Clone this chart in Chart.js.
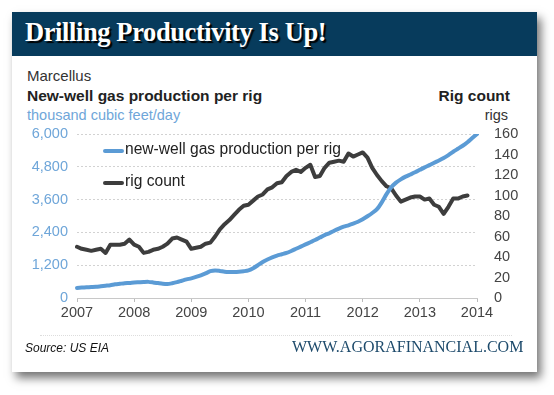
<!DOCTYPE html>
<html>
<head>
<meta charset="utf-8">
<script src="https://cdn.jsdelivr.net/npm/chart.js@4.4.1/dist/chart.umd.min.js"></script>
<style>
  html, body { margin:0; padding:0; background:#fff; }
  body { width:554px; height:395px; position:relative; overflow:hidden; font-family:"Liberation Sans", Arial, sans-serif; }
  .abs { position:absolute; white-space:nowrap; }
  #card { left:12px; top:12px; width:525px; height:360px; background:#fff; box-shadow:4px 6px 9px rgba(0,0,0,0.55); }
  #titlebar { left:12px; top:12px; width:525px; height:44px; background:#073b5c; }
  #title { left:25px; top:17px; font-family:"Liberation Serif", "Times New Roman", serif; font-weight:bold; font-size:26.5px; letter-spacing:-0.4px; color:#fff; text-shadow:2px 2px 1px #000; }
  canvas { position:absolute; left:0; top:0; }
</style>
</head>
<body>
<div id="card" class="abs"></div>
<div id="titlebar" class="abs"></div>
<div id="title" class="abs">Drilling Productivity Is Up!</div>
<div class="abs" style="left:27px;top:67px;font-size:15px;color:#333;">Marcellus</div>
<div class="abs" style="left:27px;top:87px;font-size:15.5px;font-weight:bold;color:#222;">New-well gas production per rig</div>
<div class="abs" style="left:27px;top:107px;font-size:14.5px;color:#6fa6d9;">thousand cubic feet/day</div>
<div class="abs" style="right:44px;top:87px;font-size:15.5px;font-weight:bold;color:#222;">Rig count</div>
<div class="abs" style="right:46px;top:107px;font-size:14.5px;color:#333;">rigs</div>
<canvas id="c" width="554" height="395"></canvas>
<div class="abs" style="left:103px;top:149px;width:21px;height:4px;border-radius:2px;background:#5b9bd5;"></div>
<div class="abs" style="left:125px;top:140px;font-size:15.6px;color:#222;">new-well gas production per rig</div>
<div class="abs" style="left:103px;top:181px;width:21px;height:4px;border-radius:2px;background:#3d3d3d;"></div>
<div class="abs" style="left:125px;top:172px;font-size:15.6px;color:#222;">rig count</div>
<div class="abs" style="left:40px;top:335px;width:472px;height:0;border-top:1px dotted #ddd;"></div>
<div class="abs" style="left:25px;top:341px;font-family:'Liberation Sans Narrow','Liberation Sans',Arial,sans-serif;font-style:italic;font-size:12px;color:#111;">Source: US EIA</div>
<div class="abs" style="left:292px;top:338px;font-family:'Liberation Serif','Times New Roman',serif;font-size:16px;color:#1d4a6b;">WWW.AGORAFINANCIAL.COM</div>
<script>
// ---- data ----
const years = [2007, 2008, 2009, 2010, 2011, 2012, 2013, 2014];
const months = ['01','02','03','04','05','06','07','08','09','10','11','12'];
const gasProduction = [
  370,380,390,400,410,430,450,470,500,520,540,550,
  565,575,585,590,570,545,520,510,540,580,630,680,
  720,770,830,900,980,1010,990,960,950,950,960,980,
  1010,1090,1200,1320,1410,1490,1550,1600,1650,1720,1800,1880,
  1960,2040,2120,2210,2300,2370,2460,2540,2610,2660,2720,2790,
  2880,2990,3110,3250,3500,3800,4050,4220,4340,4440,4520,4600,
  4690,4780,4860,4950,5030,5120,5230,5350,5460,5570,5700,5850,
  6000
];
const rigCount = [
  50,48,47,46,47,48,44,52,52,52,53,57,
  52,50,44,45,47,48,50,53,58,59,57,55,
  48,49,50,53,54,60,67,72,76,81,86,90,
  91,95,99,101,106,108,112,113,119,123,125,123,
  127,130,118,119,127,132,133,134,133,141,138,140,
  142,137,127,120,114,109,107,100,94,96,98,99,
  99,96,97,91,89,82,89,97,97,99,100
];
const leftTicks = [0, 1200, 2400, 3600, 4800, 6000];
const rightTicks = [0, 20, 40, 60, 80, 100, 120, 140, 160];

// monthly category labels, Jan 2007 .. Jan 2014
const labels = [];
years.forEach(y => {
  months.forEach(m => { if (y < 2014 || m === '01') labels.push(y + '-' + m); });
});

const FONT = "'Liberation Sans', Arial, sans-serif";

new Chart(document.getElementById('c'), {
  type: 'line',
  data: {
    labels: labels,
    datasets: [
      { label: 'new-well gas production per rig', data: gasProduction, yAxisID: 'y',
        borderColor: '#5b9bd5', borderWidth: 4, pointRadius: 0, tension: 0.25, borderCapStyle: 'round', borderJoinStyle: 'round' },
      { label: 'rig count', data: rigCount, yAxisID: 'y1',
        borderColor: '#3d3d3d', borderWidth: 4, pointRadius: 0, tension: 0, borderCapStyle: 'round', borderJoinStyle: 'round' }
    ]
  },
  options: {
    responsive: false,
    animation: false,
    devicePixelRatio: 1,
    layout: { padding: { left: 0, right: 0, top: 134, bottom: 72 } },
    plugins: { legend: { display: false }, tooltip: { enabled: false } },
    scales: {
      x: {
        type: 'category',
        offset: false,
        afterFit: s => { s.height = 25; },
        border: { display: true, color: '#c8c8c8', width: 1 },
        grid: {
          drawOnChartArea: false, drawTicks: true, tickLength: 4,
          color: ctx => (ctx.tick && String(ctx.tick.label) !== '') ? '#bbbbbb' : 'rgba(0,0,0,0)'
        },
        ticks: {
          autoSkip: false, maxRotation: 0, minRotation: 0, padding: 2,
          color: '#444', font: { family: FONT, size: 14.5 },
          callback: function(v, i) { const l = labels[i]; return l.endsWith('-01') ? l.slice(0, 4) : ''; }
        }
      },
      y: {
        position: 'left',
        min: 0, max: 6000,
        afterFit: s => { s.width = 77; },
        afterBuildTicks: s => { s.ticks = leftTicks.map(v => ({ value: v })); },
        grid: {
          drawTicks: false,
          color: ctx => ctx.tick.value === 0 ? 'rgba(0,0,0,0)' : '#d2d2d2',
          lineWidth: 1
        },
        border: { display: false, dash: [2, 2] },
        ticks: {
          padding: 9, color: '#6fa6d9', font: { family: FONT, size: 14.5 },
          callback: v => v.toLocaleString('en-US')
        }
      },
      y1: {
        position: 'right',
        min: 0, max: 160,
        afterFit: s => { s.width = 77; },
        afterBuildTicks: s => { s.ticks = rightTicks.map(v => ({ value: v })); },
        border: { display: false },
        grid: { display: false },
        ticks: { padding: 9, color: '#444', font: { family: FONT, size: 14.5 } }
      }
    }
  }
});
</script>
</body>
</html>
